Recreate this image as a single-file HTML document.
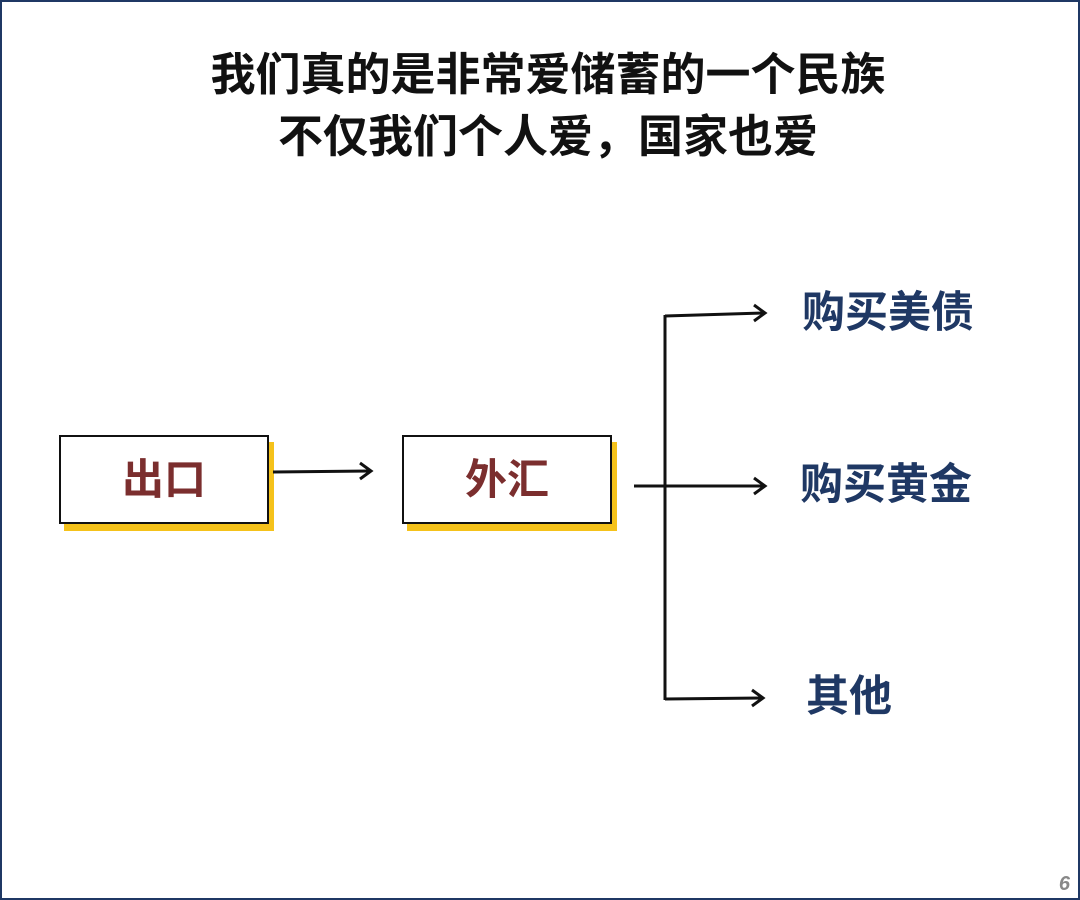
<!DOCTYPE html>
<html><head><meta charset="utf-8"><style>
body{margin:0;width:1080px;height:900px;background:#fff;overflow:hidden;position:relative;font-family:"Liberation Sans","Noto Sans CJK SC",sans-serif}
.frame{position:absolute;left:0;top:0;width:1076px;height:896px;border:2px solid #1f3864}
.t{position:absolute;left:0;width:1096px;text-align:center;font-size:45px;font-weight:bold;color:#111;line-height:50px}
.box{position:absolute;width:206px;height:85px;border:2px solid #111;background:#fff;box-shadow:5px 7px 0 #f5c21a;font-size:42px;font-weight:bold;color:#7b2e2e;display:flex;align-items:center;justify-content:center;line-height:1}
.lab{position:absolute;font-size:43px;font-weight:bold;color:#1f3864;line-height:50px}
.pn{position:absolute;right:10px;bottom:4px;font-size:20px;font-style:italic;font-weight:bold;color:#888}
</style></head><body>
<div class="frame"></div>
<div class="t" style="top:50px">我们真的是非常爱储蓄的一个民族</div>
<div class="t" style="top:112px">不仅我们个人爱，国家也爱</div>
<div class="box" style="left:59px;top:435px">出口</div>
<div class="box" style="left:402px;top:435px">外汇</div>
<svg width="1080" height="900" style="position:absolute;left:0;top:0">
<g stroke="#111" stroke-width="3" fill="none">
<line x1="273" y1="472" x2="370" y2="471"/><polyline points="360,463 371,471 360,479"/>
<line x1="634" y1="486" x2="764" y2="486"/><polyline points="754,478 765,486 754,494"/>
<line x1="665" y1="315" x2="665" y2="700"/>
<line x1="665" y1="316" x2="764" y2="313"/><polyline points="754,305 765,313 754,321"/>
<line x1="665" y1="699" x2="762" y2="698"/><polyline points="752,690 763,698 752,706"/>
</g></svg>
<div class="lab" style="left:802px;top:288px">购买美债</div>
<div class="lab" style="left:800px;top:460px">购买黄金</div>
<div class="lab" style="left:806px;top:672px">其他</div>
<div class="pn">6</div>
</body></html>
